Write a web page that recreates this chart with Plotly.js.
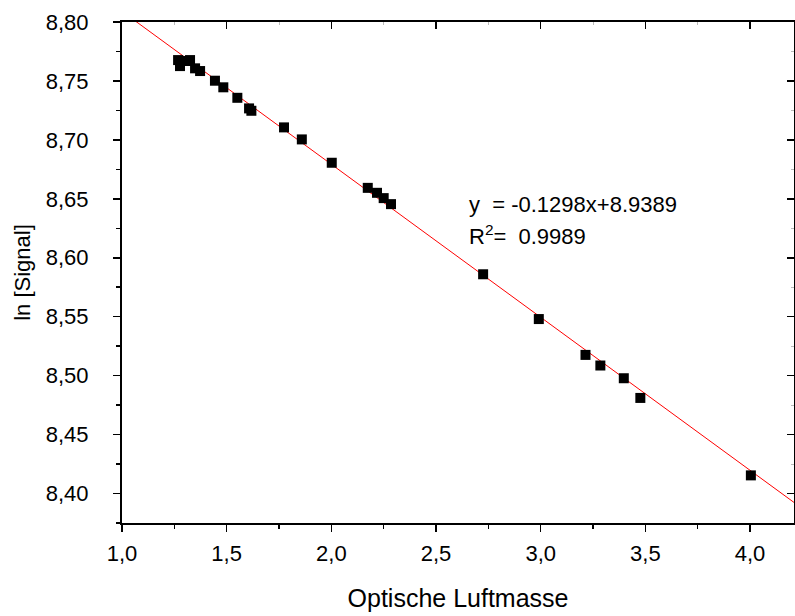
<!DOCTYPE html>
<html>
<head>
<meta charset="utf-8">
<script src="https://cdn.plot.ly/plotly-3.0.1.min.js"></script>
<style>html,body{margin:0;padding:0;overflow:hidden;background:#fff;}</style>
</head>
<body>
<div id="chart" style="width:795px;height:616px;"></div>
<script>
// Optical air mass (x) and ln signal (y)
const airMass = [1.268, 1.277, 1.306, 1.325, 1.349, 1.373, 1.444, 1.484, 1.551, 1.607, 1.618,
                 1.774, 1.859, 2.002, 2.174, 2.218, 2.250, 2.285, 2.725, 2.991, 3.214, 3.285,
                 3.397, 3.476, 4.004];
const lnSignal = [8.7677, 8.7626, 8.7669, 8.7677, 8.7607, 8.7584, 8.7502, 8.7446, 8.7357, 8.7267, 8.7247,
                  8.7106, 8.7004, 8.6806, 8.6593, 8.6551, 8.6506, 8.6455, 8.5860, 8.5480, 8.5176, 8.5086,
                  8.4978, 8.4811, 8.4154];
// Linear fit parameters
const slope = -0.1298;
const intercept = 8.9389;
const rSquared = 0.9989;
const xRange = [1.0, 4.21];
const yRange = [8.375, 8.80];
const xTicks = [1.0, 1.5, 2.0, 2.5, 3.0, 3.5, 4.0];
const yTicks = [8.40, 8.45, 8.50, 8.55, 8.60, 8.65, 8.70, 8.75, 8.80];

const fitX = [0.9, 4.3];
const fitY = fitX.map(v => slope * v + intercept);

const font = {family: '"Liberation Sans", Arial, sans-serif', color: '#000'};
const f = s => Object.assign({size: s}, font);

const traces = [
  {x: fitX, y: fitY, mode: 'lines', line: {color: '#ff0000', width: 1}, hoverinfo: 'skip', showlegend: false},
  {x: airMass, y: lnSignal, mode: 'markers', marker: {symbol: 'square', size: 10, color: '#000'}, showlegend: false},
  {x: [null], y: [null], xaxis: 'x2', yaxis: 'y2', mode: 'markers', showlegend: false, hoverinfo: 'skip'}
];

const layout = {
  width: 795, height: 616,
  margin: {l: 122, r: 1, t: 22, b: 93},
  paper_bgcolor: '#fff', plot_bgcolor: '#fff',
  separators: ',.',
  font: f(22),
  showlegend: false,
  xaxis: {
    range: xRange, tickvals: xTicks, tickformat: '.1f',
    ticks: 'outside', ticklen: 7, tickwidth: 1.5, tickcolor: '#000',
    minor: {dtick: 0.25, ticks: 'outside', ticklen: 4, tickwidth: 1.5, tickcolor: '#000', showgrid: false},
    showline: true, linecolor: '#000', linewidth: 2, showgrid: false, zeroline: false,
    tickfont: f(22), ticklabelstandoff: 3,
    title: {text: 'Optische Luftmasse', font: f(25), standoff: 24}
  },
  yaxis: {
    range: yRange, tickvals: yTicks, tickformat: '.2f',
    ticks: 'outside', ticklen: 7, tickwidth: 1.5, tickcolor: '#000',
    minor: {dtick: 0.025, ticks: 'outside', ticklen: 4, tickwidth: 1.5, tickcolor: '#000', showgrid: false},
    showline: true, linecolor: '#000', linewidth: 2, showgrid: false, zeroline: false,
    tickfont: f(22), ticklabelstandoff: 20,
    title: {text: 'ln [Signal]', font: f(22), standoff: 9}
  },
  xaxis2: {
    overlaying: 'x', side: 'top', anchor: 'y2', range: xRange, tickvals: xTicks,
    ticks: 'inside', ticklen: 7, tickwidth: 1.5, tickcolor: '#000', showticklabels: false,
    minor: {dtick: 0.25, ticks: 'inside', ticklen: 3, tickwidth: 1, tickcolor: '#bbb', showgrid: false},
    showline: true, linecolor: '#000', linewidth: 2, showgrid: false, zeroline: false
  },
  yaxis2: {
    overlaying: 'y', side: 'right', anchor: 'x2', range: yRange, tickvals: yTicks,
    ticks: 'inside', ticklen: 7, tickwidth: 1.5, tickcolor: '#000', showticklabels: false,
    minor: {dtick: 0.025, ticks: 'inside', ticklen: 3, tickwidth: 1, tickcolor: '#bbb', showgrid: false},
    showline: true, linecolor: '#000', linewidth: 2, showgrid: false, zeroline: false
  },
  annotations: [
    {x: 2.65, y: 8.645, xref: 'x', yref: 'y', xanchor: 'left', yanchor: 'middle', showarrow: false,
     text: 'y\u00a0\u00a0= ' + slope.toFixed(4) + 'x+' + intercept.toFixed(4), font: f(22)},
    {x: 2.65, y: 8.619, xref: 'x', yref: 'y', xanchor: 'left', yanchor: 'middle', showarrow: false,
     text: 'R<sup>2</sup>=\u00a0\u00a0' + rSquared.toFixed(4), font: f(22)}
  ]
};

Plotly.newPlot('chart', traces, layout, {displayModeBar: false, staticPlot: true});
</script>
</body>
</html>
